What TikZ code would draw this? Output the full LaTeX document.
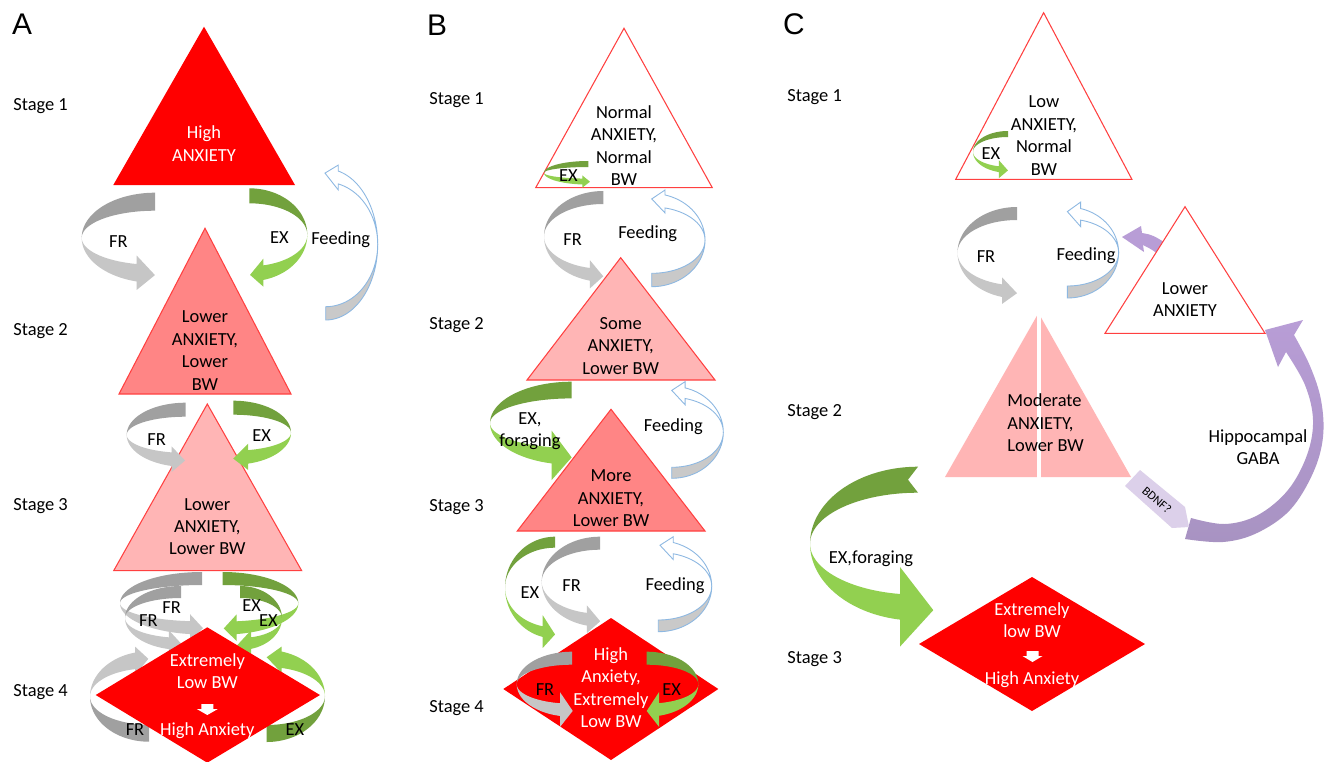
\documentclass[tikz,border=0pt]{standalone}
\usepackage{fontspec}
\setmainfont{Carlito}
\newfontfamily\letterfont{Liberation Sans}
\newcommand{\figfont}{\fontsize{10.5pt}{12.75pt}\selectfont}
\definecolor{redF}{HTML}{FF0000}
\definecolor{salmon}{HTML}{FF8585}
\definecolor{pinkL}{HTML}{FFB5B5}
\definecolor{grayD}{HTML}{A0A0A0}
\definecolor{grayL}{HTML}{C6C6C6}
\definecolor{greenD}{HTML}{72A13D}
\definecolor{greenL}{HTML}{92D050}
\definecolor{feedBlue}{HTML}{8DB8E2}
\definecolor{feedGray}{HTML}{C9C9C9}
\definecolor{purpA}{HTML}{B89DD6}
\definecolor{purpB}{HTML}{A893C2}
\definecolor{purpL}{HTML}{DCD0EA}
\definecolor{triLine}{HTML}{FF4040}
\pgfkeys{/carr/.is family}
\pgfkeys{/carr,
  rx/.store in=\Qrx, ry/.store in=\Qry, t/.store in=\Qt, ae/.store in=\Qae,
  h/.store in=\Qh, L/.store in=\QL, n/.store in=\Qn,
  top/.code={\tikzset{carrtop/.style={#1}}},
  bot/.code={\tikzset{carrbot/.style={#1}}}}
\pgfkeys{/carr/gray/.style={/carr/top={fill=grayD},/carr/bot={fill=grayL}}}
\pgfkeys{/carr/green/.style={/carr/top={fill=greenD},/carr/bot={fill=greenL}}}
\pgfkeys{/carr/feed/.style={/carr/top={fill=feedGray,draw=feedBlue,line width=0.5pt},/carr/bot={fill=white,draw=feedBlue,line width=0.5pt}}}
\newcommand{\CArr}[2]{%
  \pgfkeys{/carr, rx=50, ry=40, t=14, ae=104, h=7, L=13, n=0, gray, #2}%
  \pgfmathsetmacro{\Qri}{\Qry-\Qt}%
  \pgfmathsetmacro{\Qphe}{270-\Qae}%
  \pgfmathsetmacro{\Qdd}{\Qphe-90}%
  \pgfmathsetmacro{\Qxe}{-\Qrx*sin(\Qphe)}%
  \pgfmathsetmacro{\Qyo}{-\Qry*cos(\Qphe)}%
  \pgfmathsetmacro{\Qyi}{-\Qri*cos(\Qphe)}%
  \pgfmathsetmacro{\Qym}{(\Qyo+\Qyi)/2}%
  \pgfmathsetmacro{\Qsl}{((\Qry-\Qt/2)*sin(\Qphe))/(-\Qrx*cos(\Qphe))}%
  \pgfmathsetmacro{\Qxt}{\Qxe+\QL}%
  \pgfmathsetmacro{\Qyt}{\Qym+\QL*\Qsl}%
  \pgfmathsetmacro{\Qyb}{\Qyo+\Qh}%
  \pgfmathsetmacro{\Qya}{\Qyi-\Qh}%
  \pgfmathsetmacro{\Qyn}{-\Qry+\Qt/2}%
  \begin{scope}[#1]
    \path[carrtop] plot[domain=0:90,samples=40] ({-\Qrx*sin(\x)},{-\Qry*cos(\x)})
      -- plot[domain=0:90,samples=40] ({-\Qrx*sin(90-\x)},{-\Qri*cos(90-\x)})
      -- (-\Qn,\Qyn) -- cycle;
    \path[carrbot] plot[domain=90:\Qphe,samples=40] ({-\Qrx*sin(\x)},{-\Qry*cos(\x)})
      -- (\Qxe,\Qyb) -- (\Qxt,\Qyt) -- (\Qxe,\Qya) -- (\Qxe,\Qyi)
      -- plot[domain=0:\Qdd,samples=40] ({-\Qrx*sin(\Qphe-\x)},{-\Qri*cos(\Qphe-\x)}) -- cycle;
  \end{scope}}
\begin{document}
\begin{tikzpicture}[x=0.02cm, y=-0.02cm,
  lbl/.style={font=\figfont, inner sep=0pt, align=center, execute at begin node=\strut, execute at end node=\strut},
  wlbl/.style={lbl, text=white},
  stg/.style={lbl, anchor=west},
  letter/.style={font=\letterfont\fontsize{17pt}{20pt}\selectfont, inner sep=0pt},
  tribox/.style={draw=triLine, line width=0.6pt}]
\useasboundingbox (0,0) rectangle (1325,761);
\fill[white] (0,0) rectangle (1325,761);

% ================= Panel A =================
\node[letter] (pA) at (22,24) {A};
\node[stg] (sA1) at (13,106) {Stage 1};
\node[stg] (sA2) at (13,331) {Stage 2};
\node[stg] (sA3) at (13,506) {Stage 3};
\node[stg] (sA4) at (13,692) {Stage 4};

\CArr{shift={(155,237.8)}}{rx=73.3, ry=45.1, t=18, ae=104.5, h=8.5, L=18.3}
\CArr{shift={(249.3,234.8)},xscale=-1}{rx=58, ry=46.5, t=15, ae=104, h=6.7, L=13.3, green}
\CArr{shift={(325.7,244.4)},xscale=-1,yscale=-1}{rx=52, ry=75.6, t=13.3, ae=104, h=6, L=13.3, feed}

\fill[redF] (204,26.7) -- (295,185) -- (113.3,185) -- cycle;
\filldraw[fill=salmon, tribox] (205,228.3) -- (291,394) -- (119,394) -- cycle;
\filldraw[fill=pinkL, tribox] (207.3,404) -- (301.7,570.7) -- (113.7,570.7) -- cycle;

\CArr{shift={(185.7,434.8)}}{rx=59, ry=32.1, t=14, ae=103.7, h=5.9, L=13.3}
\CArr{shift={(233.3,432.7)},xscale=-1}{rx=57.7, ry=32, t=14, ae=105, h=6.4, L=15, green}

\CArr{shift={(202,603.2)}}{rx=82, ry=31.2, t=13, ae=98.4, h=7, L=13}
\CArr{shift={(222.7,603.3)},xscale=-1}{rx=75.6, ry=31.3, t=13, ae=100.7, h=7, L=13, green}
\CArr{shift={(181,617.9)}}{rx=56, ry=31.9, t=12, ae=102.4, h=7, L=13}
\CArr{shift={(240,618)},xscale=-1}{rx=42, ry=32, t=12, ae=105.2, h=7, L=14, green}
\CArr{shift={(149,696.5)},yscale=-1}{rx=59, ry=45.2, t=17, ae=103.7, h=6, L=13.3}
\CArr{shift={(266.7,696)},xscale=-1,yscale=-1}{rx=58.3, ry=46, t=17, ae=104.9, h=5, L=15, green}

\fill[redF] (207.3,627.3) -- (320,695) -- (207.3,762.7) -- (95.7,695) -- cycle;
\fill[white] (201.3,704) -- (213.3,704) -- (213.3,709) -- (217.8,709) -- (207.3,715) -- (196.8,709) -- (201.3,709) -- cycle;

\node[wlbl] (tA1) at (204,147) {High\\ANXIETY};
\node[lbl] (tA2) at (205,354) {Lower\\ANXIETY,\\Lower\\BW};
\node[lbl] (tA3) at (207.3,530) {Lower\\ANXIETY,\\Lower BW};
\node[wlbl] (tA4a) at (207.3,674.5) {Extremely\\Low BW};
\node[wlbl] (tA4b) at (207.3,731) {High Anxiety};
\node[lbl] (lA1) at (118.3,243) {FR};
\node[lbl] (lA2) at (279.3,239) {EX};
\node[lbl] (lA3) at (340.7,240) {Feeding};
\node[lbl] (lA4) at (156.7,441) {FR};
\node[lbl] (lA5) at (261.7,437) {EX};
\node[lbl] (lA6) at (171.7,609) {FR};
\node[lbl] (lA7) at (148.3,622) {FR};
\node[lbl] (lA8) at (251.7,607) {EX};
\node[lbl] (lA9) at (268.3,622) {EX};
\node[lbl] (lA10) at (135,731) {FR};
\node[lbl] (lA11) at (295,731) {EX};

% ================= Panel B =================
\node[letter] (pB) at (437,25) {B};
\node[stg] (sB1) at (429,100) {Stage 1};
\node[stg] (sB2) at (429,325) {Stage 2};
\node[stg] (sB3) at (429,507) {Stage 3};
\node[stg] (sB4) at (429,708) {Stage 4};

\filldraw[fill=white, tribox] (624,28.3) -- (712.3,187.7) -- (535.7,187.7) -- cycle;
\CArr{shift={(588.3,172.8)}}{rx=44.3, ry=11.8, t=6, ae=97.8, h=3.2, L=7.7, green}

\CArr{shift={(603.3,236.4)}}{rx=59.3, ry=45.4, t=13, ae=103, h=7.7, L=13.3}
\CArr{shift={(651.7,240.1)},xscale=-1,yscale=-1}{rx=53.3, ry=46.6, t=13.4, ae=104.5, h=5, L=13.3, feed}

\filldraw[fill=pinkL, tribox] (620.7,257.7) -- (715,380) -- (527,380) -- cycle;
\filldraw[fill=salmon, tribox] (611,409.3) -- (705,531) -- (517.3,531) -- cycle;

\CArr{shift={(571.7,423.2)}}{rx=81.7, ry=41.5, t=16.7, ae=104.2, h=16.6, L=20, green}
\CArr{shift={(671.7,432.3)},xscale=-1,yscale=-1}{rx=51.6, ry=46, t=11, ae=105, h=6.2, L=13.3, feed}

\CArr{shift={(555,587.6)}}{rx=50, ry=50.9, t=11, ae=104.2, h=11, L=12.3, green}
\CArr{shift={(600,581.7)}}{rx=58.3, ry=45, t=13, ae=103, h=7.5, L=13.3}
\CArr{shift={(658.3,586.2)},xscale=-1,yscale=-1}{rx=53.4, ry=45.5, t=11.7, ae=106.3, h=5.8, L=13.3, feed}

\fill[redF] (611,618) -- (718.3,689) -- (611,760) -- (503.3,689) -- cycle;
\CArr{shift={(572,684.2)}}{rx=55.3, ry=32.5, t=13, ae=102.5, h=11, L=12.7}
\CArr{shift={(646.7,684.2)},xscale=-1}{rx=51.6, ry=32.5, t=13, ae=103.8, h=11, L=12.3, green}

\node[lbl] (tB1) at (624,149) {Normal\\ANXIETY,\\Normal\\BW};
\node[lbl] (tB2) at (620.7,349) {Some\\ANXIETY,\\Lower BW};
\node[lbl] (tB3) at (611,501.5) {More\\ANXIETY,\\Lower BW};
\node[wlbl] (tB4) at (611,691) {High\\Anxiety,\\Extremely\\Low BW};
\node[lbl] (lB1) at (568.3,177) {EX};
\node[lbl] (lB2) at (572.7,241) {FR};
\node[lbl] (lB3) at (647.7,234) {Feeding};
\node[lbl] (lB4) at (530,433) {EX,\\foraging};
\node[lbl] (lB5) at (673.3,427.5) {Feeding};
\node[lbl] (lB6) at (530,594) {EX};
\node[lbl] (lB7) at (571.7,587.5) {FR};
\node[lbl] (lB8) at (675,586) {Feeding};
\node[lbl] (lB9) at (545,691) {FR};
\node[lbl] (lB10) at (671.7,691) {EX};

% ================= Panel C =================
\node[letter] (pC) at (794,24) {C};
\node[stg] (sC1) at (787,97) {Stage 1};
\node[stg] (sC2) at (787,412) {Stage 2};
\node[stg] (sC3) at (787,659) {Stage 3};

\filldraw[fill=white, tribox] (1043.6,12.7) -- (1131.9,179.3) -- (955.7,179.3) -- cycle;
\CArr{shift={(1008,151.9)}}{rx=35, ry=20.9, t=6, ae=105, h=6, L=9, green}

\CArr{shift={(1017,252.7)}}{rx=59.5, ry=45.7, t=13, ae=104.6, h=7, L=15}
\CArr{shift={(1067.4,252.5)},xscale=-1,yscale=-1}{rx=51.2, ry=45.5, t=12, ae=105, h=6.5, L=13.3, feed}

% small purple arrow behind the Lower ANXIETY triangle
\fill[purpA] (1122,237) -- (1141,226) -- (1142,233) .. controls (1153,235) .. (1170,246)
  -- (1165,260) .. controls (1153,250) .. (1143,245) -- (1144,252) -- cycle;
\filldraw[fill=white, tribox] (1185,206.7) -- (1265,333.3) -- (1105,333.3) -- cycle;

% Moderate triangle split
\fill[pinkL] (1038.5,313) -- (1131,477) -- (945,477) -- cycle;
\draw[white, line width=2.4pt] (1038.7,300) -- (1038.7,480);

% Hippocampal GABA arrow
\path[top color=purpA, bottom color=purpB] (1185,539) -- (1191,518)
  -- plot[smooth, tension=0.6] coordinates {(1191,518) (1225,524) (1258,515) (1288,490) (1307,455) (1313,420) (1305,385) (1286,352)}
  -- (1278,367) -- (1265,330) -- (1303,320) -- (1294,335)
  -- plot[smooth, tension=0.6] coordinates {(1294,335) (1310,366) (1321,400) (1323,437) (1313,473) (1290,510) (1257,533) (1223,542) (1185,539)} -- cycle;
% BDNF arrow
\fill[purpL] (1140,470) -- (1185,507) -- (1189,527) -- (1172,528) -- (1125,486) -- cycle;
\node[inner sep=0pt, font=\fontsize{7pt}{8pt}\selectfont, rotate=-40] (tBDNF) at (1157,500) {BDNF?};

% big green arrow
\CArr{shift={(918,543.7)}}{rx=108, ry=77, t=26, ae=99.6, h=27, L=33.3, n=10, green}

\fill[redF] (1032,577) -- (1145,644) -- (1032,711) -- (919,644) -- cycle;
\fill[white] (1026.5,651) -- (1038.5,651) -- (1038.5,656) -- (1042.5,656) -- (1032.5,662) -- (1022.5,656) -- (1026.5,656) -- cycle;

\node[lbl] (tC1) at (1044,139) {Low\\ANXIETY,\\Normal\\BW};
\node[lbl] (tC2) at (1185,303) {Lower\\ANXIETY};
\node[lbl, anchor=west, align=left] (tC3) at (1007,426.3) {Moderate\\ANXIETY,\\Lower BW};
\node[wlbl] (tC4a) at (1032,623.5) {Extremely\\low BW};
\node[wlbl] (tC4b) at (1032,680) {High Anxiety};
\node[lbl] (lC1) at (991,155) {EX};
\node[lbl] (lC2) at (986,258) {FR};
\node[lbl] (lC3) at (1086,256) {Feeding};
\node[lbl] (lC4) at (1258,450.5) {Hippocampal\\GABA};
\node[lbl] (lC5) at (871,559) {EX,foraging};
\end{tikzpicture}
\end{document}
